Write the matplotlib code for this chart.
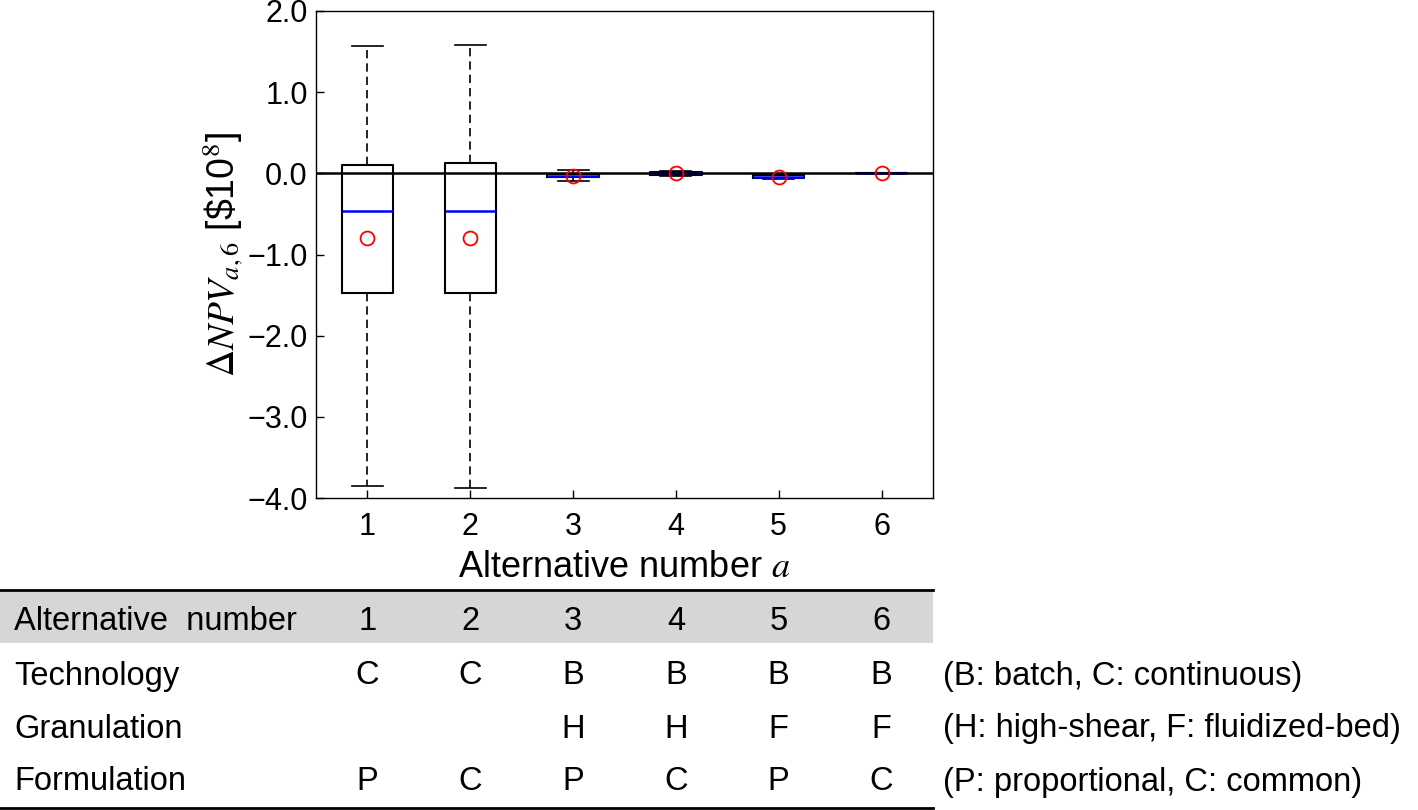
import numpy as np
import matplotlib
matplotlib.use("Agg")
from matplotlib import pyplot as plt
from matplotlib.transforms import blended_transform_factory
from matplotlib.patches import Rectangle
from matplotlib.lines import Line2D

plt.rcParams['font.family'] = ['Liberation Sans', 'DejaVu Sans']
plt.rcParams['mathtext.fontset'] = 'stix'

# box statistics, units of $10^8
alternatives = [1, 2, 3, 4, 5, 6]
whisker_low = [-3.85, -3.88, -0.09, -0.03, -0.07, 0.0]
q1 = [-1.47, -1.48, -0.05, -0.02, -0.06, 0.0]
medians = [-0.47, -0.47, -0.03, 0.0, -0.04, 0.0]
q3 = [0.105, 0.13, -0.01, 0.02, -0.02, 0.0]
whisker_high = [1.57, 1.58, 0.04, 0.03, -0.01, 0.0]
means = [-0.80, -0.80, -0.035, 0.005, -0.04, 0.0]

row_names = ["Technology", "Granulation", "Formulation"]
technology = ["C", "C", "B", "B", "B", "B"]
granulation = ["", "", "H", "H", "F", "F"]
formulation = ["P", "C", "P", "C", "P", "C"]
row_notes = ["(B: batch, C: continuous)",
             "(H: high-shear, F: fluidized-bed)",
             "(P: proportional, C: common)"]

fig = plt.figure(figsize=(14.18, 8.1), dpi=100)
ax = fig.add_axes([316 / 1418, 1 - 498 / 810, 617 / 1418, 487 / 810])

stats = []
for i in range(len(alternatives)):
    stats.append(dict(whislo=whisker_low[i], q1=q1[i], med=medians[i], q3=q3[i],
                      whishi=whisker_high[i], mean=means[i], fliers=[]))

ax.axhline(0, color='black', lw=1.8, zorder=3)
ax.bxp(stats, positions=alternatives, widths=0.5, showmeans=True, capwidths=0.3,
       boxprops=dict(color='black', lw=1.5),
       medianprops=dict(color='blue', lw=1.8),
       whiskerprops=dict(color='black', lw=1.2, linestyle=(0, (5, 3))),
       capprops=dict(color='black', lw=1.2),
       meanprops=dict(marker='o', markerfacecolor='none', markeredgecolor='red',
                      markersize=10, markeredgewidth=1.3, zorder=4))

ax.set_xlim(0.5, 6.5)
ax.set_ylim(-4.0, 2.0)
yt = np.arange(-4.0, 2.01, 1.0)
ax.set_yticks(yt)
ax.set_yticklabels([f"{v:.1f}".replace('-', '\u2212') for v in yt])
ax.set_xticks(alternatives)
ax.set_xticklabels([str(a) for a in alternatives])
ax.tick_params(direction='in', length=6, width=1)
ax.tick_params(axis='y', labelsize=22, pad=6)
ax.tick_params(axis='x', labelsize=22, pad=10)
for s in ax.spines.values():
    s.set_linewidth(1.0)

ax.set_xlabel(r"Alternative number $a$", fontsize=26, labelpad=6)
ax.set_ylabel(r"$\Delta NPV_{a,6}$ [\$10$^8$]", fontsize=27, labelpad=2)

# table under the axes: x in data coords, y in figure coords
tr = blended_transform_factory(ax.transData, fig.transFigure)
fy = lambda px: 1 - px / 810

fig.patches.append(Rectangle((0, fy(643)), 933 / 1418, (643 - 592) / 810,
                             transform=fig.transFigure, facecolor='#d6d6d6',
                             edgecolor='none', zorder=0))
fig.lines.append(Line2D([0, 933 / 1418], [fy(590), fy(590)], transform=fig.transFigure,
                        color='black', lw=2))
fig.lines.append(Line2D([0, 933 / 1418], [fy(808), fy(808)], transform=fig.transFigure,
                        color='black', lw=2))

fs = 23.5
row_y = [621, 676, 729, 782]
fig.text(14 / 1418, fy(row_y[0]), "Alternative  number", fontsize=fs, va='center')
for a in alternatives:
    fig.text(a, fy(row_y[0]), str(a), fontsize=fs, va='center', ha='center', transform=tr)

rows = [technology, granulation, formulation]
for r, (name, vals, note) in enumerate(zip(row_names, rows, row_notes)):
    y = fy(row_y[r + 1])
    fig.text(14 / 1418, y, name, fontsize=fs, va='center')
    for a, v in zip(alternatives, vals):
        fig.text(a, y, v, fontsize=fs, va='center', ha='center', transform=tr)
    fig.text(943 / 1418, y, note, fontsize=fs, va='center')

fig.savefig("out.png", dpi=100)
